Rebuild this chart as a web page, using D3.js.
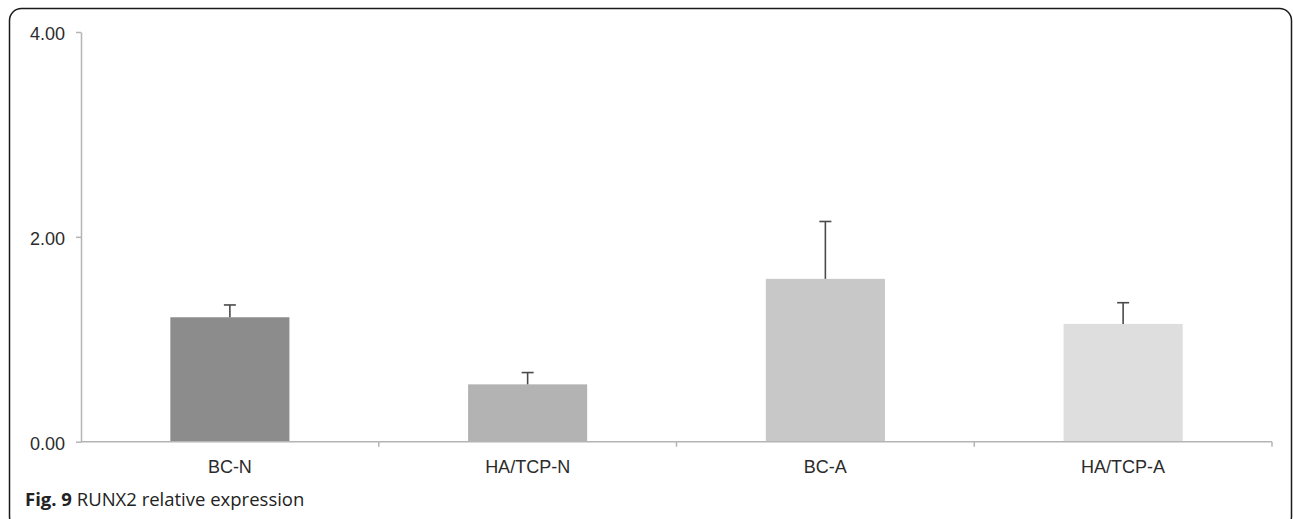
<!DOCTYPE html>
<html>
<head>
<meta charset="utf-8">
<script src="https://cdn.jsdelivr.net/npm/d3@7/dist/d3.min.js"></script>
<style>
  html, body { margin: 0; padding: 0; background: #fff; }
  svg { display: block; }
</style>
</head>
<body>
<svg id="chart" width="1293" height="519"></svg>
<script>
// RUNX2 relative expression per scaffold group
const categories = ["BC-N", "HA/TCP-N", "BC-A", "HA/TCP-A"];
const means = [1.215, 0.56, 1.59, 1.15];
const errors = [0.12, 0.115, 0.56, 0.207];
const barColors = ["#8c8c8c", "#b3b3b3", "#c8c8c8", "#dedede"];
const yTicks = [0, 2, 4];

const svg = d3.select("#chart");

// rounded figure frame
svg.append("rect")
  .attr("x", 9.5).attr("y", 8.5)
  .attr("width", 1282).attr("height", 520)
  .attr("rx", 12).attr("ry", 12)
  .attr("fill", "none")
  .attr("stroke", "#1a1a1a")
  .attr("stroke-width", 1.5);

const x = d3.scaleBand()
  .domain(categories)
  .range([81, 1272])
  .paddingInner(0.6)
  .paddingOuter(0.3);

const y = d3.scaleLinear()
  .domain([0, 4])
  .range([441.7, 32]);

const axisColor = "#b4b4b4";
const font = "'Liberation Sans', Arial, Helvetica, sans-serif";

// bars
svg.append("g").selectAll("rect")
  .data(categories)
  .join("rect")
  .attr("x", d => x(d))
  .attr("width", x.bandwidth())
  .attr("y", (d, i) => y(means[i]))
  .attr("height", (d, i) => y(0) - y(means[i]))
  .attr("fill", (d, i) => barColors[i]);

// upper error bars
const err = svg.append("g").attr("stroke", "#4a4a4a").attr("stroke-width", 1.6);
categories.forEach((c, i) => {
  const cx = x(c) + x.bandwidth() / 2;
  err.append("line")
    .attr("x1", cx).attr("x2", cx)
    .attr("y1", y(means[i])).attr("y2", y(means[i] + errors[i]));
  err.append("line")
    .attr("x1", cx - 6).attr("x2", cx + 6)
    .attr("y1", y(means[i] + errors[i])).attr("y2", y(means[i] + errors[i]));
});

// y axis
const yAxis = svg.append("g")
  .attr("transform", "translate(81,0)")
  .call(d3.axisLeft(y).tickValues(yTicks).tickFormat(d3.format(".2f")).tickSize(5).tickSizeOuter(0).tickPadding(11));
yAxis.attr("font-size", null).attr("font-family", null);
yAxis.select(".domain").attr("stroke", axisColor).attr("stroke-width", 1.5);
yAxis.selectAll(".tick line").attr("stroke", axisColor).attr("stroke-width", 1.5);
yAxis.selectAll(".tick text")
  .attr("fill", "#2b2b2b")
  .attr("font-family", font)
  .attr("font-size", 18)
  .attr("dy", "0.44em");

// x axis: baseline, boundary ticks and category labels
const bounds = categories.map(c => x(c) - x.step() * x.paddingInner() / 2).slice(1).concat([x.range()[1]]);
const xg = svg.append("g");
xg.append("line")
  .attr("x1", 81).attr("x2", x.range()[1])
  .attr("y1", y(0)).attr("y2", y(0))
  .attr("stroke", axisColor).attr("stroke-width", 1.5);
xg.selectAll("line.tick")
  .data(bounds)
  .join("line")
  .attr("class", "tick")
  .attr("x1", d => d).attr("x2", d => d)
  .attr("y1", y(0)).attr("y2", y(0) + 5)
  .attr("stroke", axisColor).attr("stroke-width", 1.5);
xg.selectAll("text")
  .data(categories)
  .join("text")
  .attr("x", d => x(d) + x.bandwidth() / 2)
  .attr("y", 473)
  .attr("text-anchor", "middle")
  .attr("fill", "#2b2b2b")
  .attr("font-family", font)
  .attr("font-size", 18)
  .text(d => d);

// caption
const cap = svg.append("text")
  .attr("x", 25).attr("y", 506)
  .attr("fill", "#222")
  .attr("font-family", "'Open Sans', 'Noto Sans', sans-serif")
  .attr("font-size", 18.5);
cap.append("tspan").attr("font-weight", "bold").text("Fig. 9");
cap.append("tspan").text(" RUNX2 relative expression");
</script>
</body>
</html>
